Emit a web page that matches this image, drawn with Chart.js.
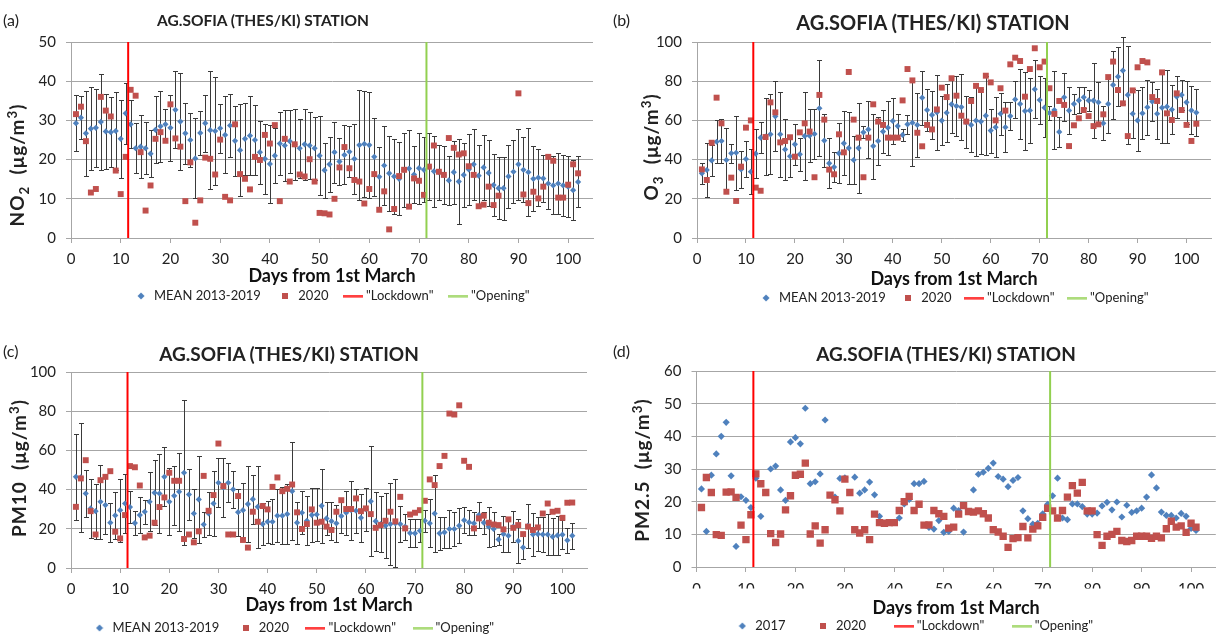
<!DOCTYPE html>
<html>
<head>
<meta charset="utf-8">
<script src="https://cdn.jsdelivr.net/npm/chart.js@4.4.1/dist/chart.umd.min.js"></script>
<style>
  body { margin: 0; background: #fff; overflow: hidden; font-family: Lato, sans-serif; color: #222; }
  #page { position: relative; width: 1221px; height: 640px; overflow: hidden; }
  canvas { position: absolute; }
  .ttl { position: absolute; transform: translate(-50%, -50%); font-weight: bold; white-space: nowrap; }
  .lbl { position: absolute; transform: translate(0, -50%); font-size: 16px; white-space: nowrap; }
  .yt { position: absolute; transform: translate(-50%, -50%) rotate(-90deg); font-weight: bold; font-size: 19px; letter-spacing: 1px; white-space: nowrap; }
  sub, sup { font-size: 0.7em; }
</style>
</head>
<body>
<div id="page">
  <canvas id="cA" width="610" height="320" style="left:0;top:0"></canvas>
  <canvas id="cB" width="611" height="320" style="left:610px;top:0"></canvas>
  <canvas id="cC" width="610" height="330" style="left:0;top:320px"></canvas>
  <canvas id="cD" width="611" height="330" style="left:610px;top:320px"></canvas>

  <div class="lbl" style="left:3px;top:19px">(a)</div>
  <div class="lbl" style="left:613px;top:19px">(b)</div>
  <div class="lbl" style="left:3px;top:350px">(c)</div>
  <div class="lbl" style="left:613px;top:350px">(d)</div>

  <div class="ttl" style="left:263px;top:20px;font-size:15.5px">AG.SOFIA (THES/KI) STATION</div>
  <div class="ttl" style="left:933px;top:22px;font-size:20px">AG.SOFIA (THES/KI) STATION</div>
  <div class="ttl" style="left:289px;top:353px;font-size:19px">AG.SOFIA (THES/KI) STATION</div>
  <div class="ttl" style="left:946px;top:353px;font-size:19px">AG.SOFIA (THES/KI) STATION</div>

  <div class="yt" style="left:18px;top:165px">NO<sub>2</sub>&nbsp;&nbsp;(μg/m<sup>3</sup>)</div>
  <div class="yt" style="left:652px;top:147px">O<sub>3</sub>&nbsp;&nbsp;(μg/m<sup>3</sup>)</div>
  <div class="yt" style="left:18px;top:468px">PM10&nbsp;&nbsp;(μg/m<sup>3</sup>)</div>
  <div class="yt" style="left:641px;top:470px">PM2.5&nbsp;&nbsp;(μg/m<sup>3</sup>)</div>
</div>
<script>
// days from 1st March
const days = [1,2,3,4,5,6,7,8,9,10,11,12,13,14,15,16,17,18,19,20,21,22,23,24,25,26,27,28,29,30,
  31,32,33,34,35,36,37,38,39,40,41,42,43,44,45,46,47,48,49,50,51,52,53,54,55,56,57,58,59,60,
  61,62,63,64,65,66,67,68,69,70,71,72,73,74,75,76,77,78,79,80,81,82,83,84,85,86,87,88,89,90,
  91,92,93,94,95,96,97,98,99,100,101,102];
const xTicks = [0,10,20,30,40,50,60,70,80,90,100];

const lockdownDay = 11.5;
const openingDay = 71.5;

// (a) NO2
const no2Mean = [29.3,30.7,26.7,27.9,28.1,29.6,27.2,27.0,27.3,25.3,
  31.8,29.0,22.9,23.3,22.9,21.5,27.6,28.5,29.0,28.1,
  32.7,29.7,26.7,25.0,20.3,26.8,29.3,27.5,27.3,28.0,
  26.3,28.7,24.8,22.4,25.3,26.1,25.0,21.9,20.2,18.9,
  21.0,24.1,23.6,24.7,23.9,22.9,23.9,23.6,22.9,21.0,
  17.3,18.8,21.9,19.5,21.2,22.0,20.2,23.7,24.0,23.7,
  20.7,15.6,18.5,16.5,15.7,15.1,17.4,17.7,16.2,17.8,
  17.4,18.2,17.0,16.8,16.1,14.7,16.8,14.4,16.1,17.5,
  18.8,15.9,18.0,16.6,13.5,12.7,12.7,15.7,16.9,18.8,
  17.4,16.8,15.1,15.4,15.2,13.9,13.4,13.9,13.4,13.1,
  12.2,14.3];
const no2Err = [7.2,5.5,10.8,10.5,10,12.3,9.5,9,10,10,
  7.7,6.1,6.4,8.1,6.6,6,8.5,9,4,8.4,
  9.8,12.3,7.7,7,10.2,5.5,7.3,15,13.7,6.3,
  9.8,8,9,11.7,9.2,10,9,8,9,10,
  7,8,9,8,9,7.5,9,8.5,8,10,
  7,7,7.8,6,7.5,6.5,9,14,13.5,13.5,
  10,7.7,10,9.6,9.6,9.3,9.5,9.8,7.3,9,
  8.3,8.5,9,7,7.3,6.3,8,10.8,8.2,9,
  9,7.7,8.4,8.5,8,7.9,8,8,8,9.1,
  8.3,11.2,8.3,7.2,6,6.5,7.4,7.7,7.7,7.7,
  7.7,6.5];
const no2Y2020 = [31.6,33.5,24.7,11.6,12.5,36.0,32.5,31.0,17.2,11.2,
  20.7,37.8,36.3,21.9,7.0,13.4,25.3,27.0,24.8,34.1,
  25.4,23.3,9.4,19.3,3.9,9.6,20.5,20.2,16.2,25.1,
  10.5,9.6,29.0,16.3,15.1,12.4,20.7,19.9,26.3,24.1,
  28.8,9.4,25.3,14.4,23.9,16.2,15.7,20.1,14.4,6.4,
  6.3,6.0,10.0,18.0,23.2,17.8,14.8,14.4,8.8,12.5,
  16.3,7.2,11.9,2.2,7.4,15.8,17.4,8.0,15.2,14.6,
  11.0,18.2,23.6,16.9,16.1,25.5,23.0,21.3,21.6,18.3,
  16.1,8.1,8.5,13.1,8.4,10.8,null,null,null,36.9,
  11.1,8.9,11.8,10.1,13.1,20.7,19.7,10.3,10.3,13.6,
  18.8,16.5];

// (b) O3
const o3Mean = [33.0,34.7,39.6,49.1,49.5,39.8,43.2,43.5,35.0,40.3,
  33.8,43.0,51.2,51.7,52.9,62.1,52.9,45.2,41.7,47.8,
  42.7,52.0,52.2,53.1,66.2,49.7,38.1,36.2,43.2,48.3,
  45.9,39.8,45.9,53.9,55.4,46.9,49.5,54.3,56.3,59.7,
  57.1,52.6,58.0,58.8,57.7,71.6,65.3,62.8,64.1,59.9,
  63.9,68.2,67.3,66.8,59.0,57.7,59.9,59.4,62.4,54.8,
  56.5,63.4,56.5,62.2,70.7,68.4,64.8,65.1,75.9,70.4,
  66.5,63.8,65.3,54.1,71.8,65.0,68.4,70.2,71.8,70.2,
  70.1,69.2,58.5,68.4,78.1,82.3,85.4,73.0,63.4,60.0,
  63.6,66.7,69.6,63.4,66.5,67.0,65.5,72.1,73.0,69.2,
  65.1,64.0];
const o3Err = [5.5,13.6,8,11,11,16.5,5,19,9.6,9,
  11.5,12.5,8,19.7,20.5,17.8,21.8,15.7,10.6,10.4,
  8.5,22.4,13.4,12.6,24.4,13.6,12.8,7.7,15.3,16.3,
  18.4,12.3,23,3,14.6,16.6,12.2,11,13.8,11.5,
  6.2,3.2,4.7,22,16.4,13.8,10.5,12.3,19,12.3,
  14.7,14.4,15.5,17,13.2,14,18,16.6,20,11.2,
  15.3,10.6,12.8,7.2,9.5,17.8,19.7,16.6,14.9,12.3,
  14.9,3.8,20,7.6,12.2,11.9,5.3,6.6,5.3,5.5,
  19,10.6,8.7,14.9,17.2,15,17,25,12.6,15.7,
  13.2,13.9,10,12.7,17.9,18.5,12.6,10.8,7.7,11,
  12.2,12];
const o3Y2020 = [35.0,29.6,48.6,71.6,58.5,23.6,30.8,18.9,36.4,56.3,
  60.0,25.7,24.1,51.5,69.2,64.1,48.8,49.5,51.4,41.5,
  53.9,58.5,54.3,31.0,73.0,60.4,34.9,32.5,52.9,43.7,
  84.7,60.4,51.2,31.0,51.2,68.2,59.4,57.7,51.2,51.2,
  51.2,70.2,86.2,80.4,53.7,46.8,57.7,55.4,65.6,76.7,
  71.9,81.5,72.6,62.4,59.4,69.9,77.6,75.5,82.8,79.4,
  60.0,76.4,65.0,88.6,92.0,90.3,72.1,86.2,96.8,87.1,
  90.0,76.4,63.3,69.9,67.9,46.9,57.5,61.1,65.3,62.2,
  57.1,58.0,63.1,82.1,90.0,75.5,68.7,52.0,75.3,87.1,
  90.3,89.6,71.9,69.9,84.5,63.6,60.2,73.8,65.3,57.7,
  49.5,58.3];

// (c) PM10
const pm10Mean = [46.5,46.2,38.0,30.4,29.0,33.8,32.1,23.1,26.8,29.5,
  32.9,31.1,22.9,27.0,28.7,33.8,38.4,38.0,46.5,33.8,
  36.8,38.9,48.6,37.5,27.8,35.0,22.2,27.8,32.9,43.5,
  41.1,43.5,40.1,28.5,29.5,32.6,35.1,31.2,22.4,23.6,
  23.6,26.7,26.7,27.5,39.2,23.1,28.2,24.1,27.0,27.3,
  31.7,25.3,23.9,22.8,26.5,28.2,29.5,29.2,25.6,30.0,
  34.0,23.9,22.4,21.6,22.4,22.8,22.4,21.1,17.8,17.7,
  19.0,24.1,22.8,27.8,17.7,18.2,19.9,19.9,21.6,24.4,
  23.3,22.8,27.0,23.1,21.1,19.9,14.6,17.3,16.5,21.1,
  13.8,10.5,21.6,17.1,17.3,17.1,17.1,16.0,16.6,17.0,
  14.1,16.5];
const pm10Err = [22,28,12,15,14,19,15,10,12,16,
  15,8,6,9,6,15,16.5,20,15,17,
  15,20,37,13,12.7,22,6.4,11,16.5,12.5,
  15,10,9.3,12,13.7,19.4,12.5,20.8,10.7,10.7,
  11.5,13.4,14.5,15.2,25,10.8,11,12.4,13.7,13.5,
  19,8.5,9.8,9.3,8.8,11.2,15,11.3,12.3,11,
  28,15,14.4,16.6,20.8,22.5,9,6.6,7,7.2,
  5.8,5.5,12.3,19.5,8.5,7.9,9.6,8.5,9,6.5,
  6.5,6,6.6,5.7,10.2,8.5,3,9.2,8.3,8,
  11.2,5.8,11.2,10.8,8.5,9.1,10.4,9.6,9.9,7.5,
  6.3,6.7];
const pm10Y2020 = [31.2,45.7,55.0,29.0,17.1,44.8,46.5,49.4,18.5,15.1,
  27.0,52.0,51.4,42.1,15.6,16.5,23.1,31.1,36.0,48.6,
  44.5,44.5,14.8,17.1,13.1,18.7,47.0,29.2,37.2,63.5,
  41.8,17.1,17.1,36.7,14.3,10.4,28.7,23.6,31.6,29.9,
  41.4,46.2,39.2,40.4,42.6,28.4,19.9,22.4,29.9,23.1,
  23.6,21.1,19.4,28.7,34.6,30.1,30.1,35.5,29.0,30.4,
  27.5,20.5,21.9,24.1,28.7,23.8,36.3,20.2,27.3,28.2,
  29.5,34.3,45.2,42.3,52.0,57.2,78.8,78.3,83.0,54.7,
  51.6,20.2,25.3,26.7,23.1,22.2,21.9,19.7,24.8,20.5,
  21.9,17.3,21.1,19.4,20.7,27.8,32.9,28.7,29.2,25.6,
  33.3,33.4];

// (d) PM2.5
const pm25Y2017 = [23.9,10.9,28.1,34.6,40.0,44.3,27.9,6.3,21.5,20.4,
  18.2,27.2,15.5,null,30.0,30.9,23.6,20.4,38.3,39.6,
  37.7,48.6,25.5,26.1,28.5,45.0,null,21.4,27.1,27.3,
  null,27.5,22.6,23.6,26.0,22.1,15.5,null,null,13.7,
  15.0,19.3,20.7,25.5,25.5,26.2,12.1,11.6,14.2,10.6,
  10.9,18.0,17.3,10.7,null,23.6,28.4,29.0,30.2,31.8,
  27.7,26.9,24.6,26.5,27.4,17.2,14.8,13.1,13.4,16.3,
  19.2,21.8,27.2,15.0,14.5,19.3,19.3,18.5,16.2,16.2,
  16.5,18.7,19.8,17.5,19.9,15.3,18.9,16.7,17.2,18.0,
  21.4,28.2,24.2,16.8,15.8,15.8,15.0,16.4,15.5,11.8,
  11.2,null];
const pm25Y2020 = [18.2,27.4,22.8,9.9,9.7,22.9,23.0,21.3,12.8,8.4,
  16.0,28.5,25.5,22.8,10.2,7.5,10.1,17.5,21.8,28.1,
  28.4,31.8,10.1,12.6,7.3,11.4,22.0,20.6,17.2,26.9,
  22.8,11.4,10.4,11.4,8.4,16.2,13.6,13.4,13.6,13.6,
  17.3,20.0,21.6,17.3,19.2,12.8,12.9,17.3,16.3,15.5,
  11.9,12.2,16.2,18.8,17.0,16.8,17.2,16.3,15.0,11.4,
  10.7,9.4,6.0,8.7,9.0,12.4,8.9,11.6,12.6,15.2,
  18.0,17.2,15.0,17.3,21.4,24.9,22.6,25.9,17.2,17.2,
  9.9,6.6,9.4,10.0,10.9,8.1,7.8,8.1,9.4,9.4,
  9.4,8.8,9.4,8.9,11.7,14.0,12.2,12.6,10.6,13.4,
  12.2,null];

const BLUE = '#4F81BD';
const RED = '#C0504D';
const GRID = '#a6a6a6';
const LEGEND_FONT = 13;
const XTITLE_FONT = 18;

Chart.defaults.font.family = 'Lato';

function points(values) {
  return days.map((d, i) => ({ x: d, y: values[i] }));
}

function marker(kind, color) {
  const c = document.createElement('canvas');
  const g = c.getContext('2d');
  if (kind === 'diamond') {
    c.width = 8; c.height = 8;
    g.fillStyle = color;
    g.beginPath();
    g.moveTo(4, 0.5); g.lineTo(7.5, 4); g.lineTo(4, 7.5); g.lineTo(0.5, 4);
    g.closePath(); g.fill();
  } else if (kind === 'square') {
    c.width = 6; c.height = 6;
    g.fillStyle = color;
    g.fillRect(0, 0, 6, 6);
  } else {
    c.width = 20; c.height = 3;
    g.fillStyle = color;
    g.fillRect(0, 0.5, 20, 2);
  }
  return c;
}

// vertical error bars for the first dataset, drawn under the markers
const errorBars = {
  id: 'errorBars',
  beforeDatasetsDraw(chart) {
    const ds = chart.data.datasets[0];
    if (!ds.errors) return;
    const xs = chart.scales.x, ys = chart.scales.y, area = chart.chartArea;
    const ctx = chart.ctx;
    ctx.save();
    ctx.beginPath();
    ctx.rect(area.left, area.top - 5, area.right - area.left, area.bottom - area.top + 5);
    ctx.clip();
    ctx.strokeStyle = '#3a3a3a';
    ctx.lineWidth = 1;
    ds.data.forEach((p, i) => {
      const e = ds.errors[i];
      if (p.y == null || e == null) return;
      const px = Math.round(xs.getPixelForValue(p.x)) + 0.5;
      const top = Math.round(ys.getPixelForValue(p.y + e)) + 0.5;
      const bot = Math.round(ys.getPixelForValue(p.y - e)) + 0.5;
      ctx.beginPath();
      ctx.moveTo(px, top); ctx.lineTo(px, bot);
      ctx.moveTo(px - 2.5, top); ctx.lineTo(px + 2.5, top);
      ctx.moveTo(px - 2.5, bot); ctx.lineTo(px + 2.5, bot);
      ctx.stroke();
    });
    ctx.restore();
  }
};

function makeChart(id, spec) {
  const legendTop = spec.legendY - spec.legendPad - LEGEND_FONT / 2;
  const legendH = LEGEND_FONT + spec.legendPad + 10;
  const xH = legendTop - spec.bottom;
  const titlePad = legendTop - spec.xTitleY - XTITLE_FONT * 0.6;
  const canvas = document.getElementById(id);
  const padBottom = canvas.height - legendTop - legendH;

  const markers = [
    marker('diamond', BLUE), marker('square', RED),
    marker('line', '#FF0000'), marker('line', '#92D050')
  ];

  const first = {
    label: spec.firstLabel,
    data: points(spec.first),
    errors: spec.errors || null,
    pointStyle: 'rectRot',
    pointRadius: spec.firstR,
    pointBackgroundColor: BLUE,
    pointBorderWidth: 0,
    order: 3
  };
  const y2020 = {
    label: '2020',
    data: points(spec.second),
    pointStyle: 'rect',
    pointRadius: spec.secondR,
    pointBackgroundColor: RED,
    pointBorderWidth: 0,
    order: 2
  };
  const lockdown = {
    label: '"Lockdown"',
    data: [{ x: lockdownDay, y: 0 }, { x: lockdownDay, y: spec.yMax }],
    showLine: true, borderColor: '#FF0000', borderWidth: 2, pointRadius: 0,
    order: 1
  };
  const opening = {
    label: '"Opening"',
    data: [{ x: openingDay, y: 0 }, { x: openingDay, y: spec.yMax }],
    showLine: true, borderColor: '#92D050', borderWidth: 2, pointRadius: 0,
    order: 0
  };

  return new Chart(canvas, {
    type: 'scatter',
    data: { datasets: [first, y2020, lockdown, opening] },
    plugins: [errorBars],
    options: {
      responsive: false,
      animation: false,
      devicePixelRatio: 1,
      layout: { padding: { left: 0, right: spec.right, top: spec.top, bottom: padBottom } },
      plugins: {
        tooltip: { enabled: false },
        legend: {
          position: 'bottom',
          fullSize: spec.legendFull,
          labels: {
            usePointStyle: true,
            padding: spec.legendPad,
            color: '#222',
            font: { size: LEGEND_FONT },
            sort: (a, b) => a.datasetIndex - b.datasetIndex,
            generateLabels(chart) {
              const items = Chart.defaults.plugins.legend.labels.generateLabels(chart);
              items.forEach(it => { it.pointStyle = markers[it.datasetIndex]; });
              return items;
            }
          }
        }
      },
      scales: {
        x: {
          type: 'linear', min: 0, max: 105,
          afterBuildTicks: s => { s.ticks = xTicks.map(v => ({ value: v })); },
          afterFit: s => { s.height = xH; },
          ticks: { padding: spec.xTickPad, color: '#222', font: { size: 15 }, maxRotation: 0, autoSkip: false },
          grid: { drawOnChartArea: false, drawTicks: true, tickLength: 5, color: GRID },
          border: { color: GRID },
          title: {
            display: true, text: 'Days from 1st March', color: '#111',
            font: { size: XTITLE_FONT, weight: 'bold' },
            padding: { top: 0, bottom: titlePad }
          }
        },
        y: {
          min: 0, max: spec.yMax,
          afterFit: s => { s.width = spec.left; },
          ticks: { stepSize: 10, padding: 10, color: '#222', font: { size: 15 } },
          grid: { color: GRID, tickLength: 5 },
          border: { color: GRID }
        }
      }
    }
  });
}

makeChart('cA', {
  first: no2Mean, second: no2Y2020, errors: no2Err, firstLabel: 'MEAN 2013-2019',
  firstR: 3.1, secondR: 4.2, yMax: 50,
  left: 71, right: 17, top: 42, bottom: 238,
  legendY: 296, legendPad: 18, legendFull: false, xTitleY: 276, xTickPad: 7.5
});
makeChart('cB', {
  first: o3Mean, second: o3Y2020, errors: o3Err, firstLabel: 'MEAN 2013-2019',
  firstR: 3.1, secondR: 4.2, yMax: 100,
  left: 87, right: 10, top: 42, bottom: 238,
  legendY: 298, legendPad: 16, legendFull: false, xTitleY: 279, xTickPad: 7.5
});
makeChart('cC', {
  first: pm10Mean, second: pm10Y2020, errors: pm10Err, firstLabel: 'MEAN 2013-2019',
  firstR: 3.1, secondR: 4.2, yMax: 100,
  left: 71, right: 23, top: 52, bottom: 248,
  legendY: 308, legendPad: 20, legendFull: true, xTitleY: 285, xTickPad: 7.5
});
makeChart('cD', {
  first: pm25Y2017, second: pm25Y2020, errors: null, firstLabel: '2017',
  firstR: 3.6, secondR: 5.2, yMax: 60,
  left: 86.5, right: 2, top: 51, bottom: 247,
  legendY: 306, legendPad: 31, legendFull: true, xTitleY: 288, xTickPad: 8.5
});
</script>
</body>
</html>
